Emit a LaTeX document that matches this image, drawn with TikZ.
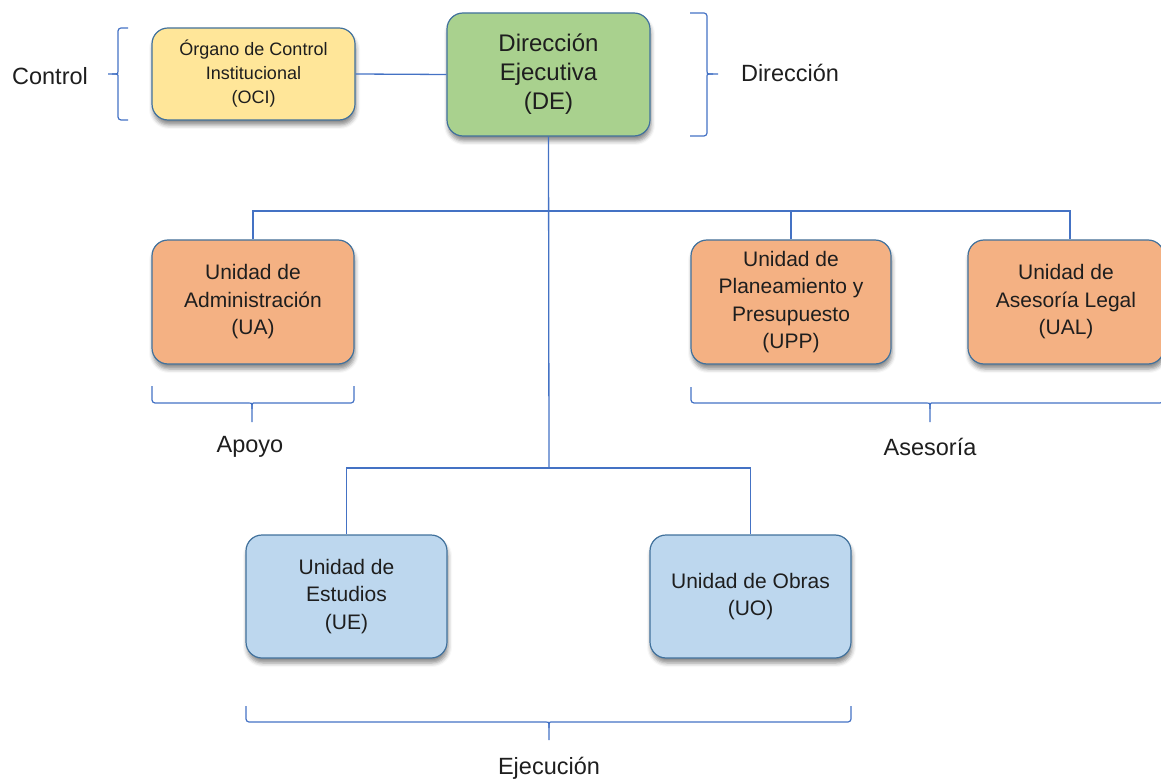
\documentclass[tikz,border=0pt]{standalone}
\usepackage{fontspec}
\setmainfont{Liberation Sans}
\usetikzlibrary{shadows.blur}
\definecolor{bordc}{HTML}{41719C}
\definecolor{linec}{HTML}{4472C4}
\definecolor{txt}{HTML}{1E1E1E}
\definecolor{fyel}{HTML}{FFE699}
\definecolor{fgrn}{HTML}{A9D18E}
\definecolor{forg}{HTML}{F4B183}
\definecolor{fblu}{HTML}{BDD7EE}
\begin{document}
\begin{tikzpicture}[x=1pt,y=-1pt,
  box/.style={draw=bordc, line width=1.2pt, rounded corners=16pt, align=center,
    inner sep=0pt, text=txt,
    blur shadow={shadow xshift=1pt, shadow yshift=-5pt, shadow blur radius=4pt, shadow opacity=45}},
  conn/.style={draw=linec, line width=1.3pt},
  brc/.style={draw=linec, line width=1.2pt, rounded corners=3pt},
  lbl/.style={text=txt, font=\fontsize{23.5}{27}\selectfont},
  fs/.style={font=\fontsize{21}{27.5}\selectfont}]
\useasboundingbox (0,0) rectangle (1161,783);
% boxes
\node[box, fill=fyel, minimum width=203pt, minimum height=92pt, font=\fontsize{18}{24}\selectfont] (oci) at (253.5,74) {Órgano de Control\\Institucional\\(OCI)};
\node[box, fill=fgrn, minimum width=203pt, minimum height=123pt, font=\fontsize{24}{29}\selectfont] (de) at (548.5,74.5) {Dirección\\Ejecutiva\\(DE)};
\node[box, fill=forg, minimum width=202pt, minimum height=124pt, fs] (ua) at (253,302) {Unidad de\\Administración\\(UA)};
\node[box, fill=forg, minimum width=200pt, minimum height=124pt, fs] (upp) at (791,302) {Unidad de\\Planeamiento y\\Presupuesto\\(UPP)};
\node[box, fill=forg, minimum width=196pt, minimum height=124pt, fs] (ual) at (1066,302) {Unidad de\\Asesoría Legal\\(UAL)};
\node[box, fill=fblu, minimum width=201pt, minimum height=123pt, fs] (ue) at (346.5,596.5) {Unidad de\\Estudios\\(UE)};
\node[box, fill=fblu, minimum width=201pt, minimum height=123pt, fs] (uo) at (750.5,596.5) {Unidad de Obras\\(UO)};
% labels
\node[lbl] (lcontrol) at (50,76) {Control};
\node[lbl] (ldir) at (790,73) {Dirección};
\node[lbl] (lapoyo) at (250,447) {Apoyo};
\node[lbl] (lases) at (930,447) {Asesoría};
\node[lbl] (lejec) at (549,768) {Ejecución};
% connectors
\coordinate (h) at (549,211);
\coordinate (j) at (549,468);
\draw[conn] (oci.east) -- (de.west);
\draw[conn] (de.south) -- (j);
\draw[conn] (ua.north) |- (h) -| ([xshift=4pt]ual.north);
\draw[conn] (upp.north) -- (upp.north |- h);
\draw[conn] (ue.north) |- (j) -| (uo.north);
% braces
\draw[brc] (128,28) -- (118,28) -- (118,68) .. controls (118,74) .. (112,74) -- (108,74);
\draw[brc] (128,120) -- (118,120) -- (118,80) .. controls (118,74) .. (112,74);
\draw[brc] (690,13) -- (707,13) -- (707,68) .. controls (707,74) .. (713,74) -- (718,74);
\draw[brc] (690,136) -- (707,136) -- (707,80) .. controls (707,74) .. (713,74);
\draw[brc] (152,386) -- (152,403) -- (246,403) .. controls (252,403) .. (252,409) -- (252,422);
\draw[brc] (354,386) -- (354,403) -- (258,403) .. controls (252,403) .. (252,409);
\draw[brc] (691,387) -- (691,403) -- (924,403) .. controls (930,403) .. (930,409) -- (930,422);
\draw[brc] (1163,387) -- (1163,403) -- (936,403) .. controls (930,403) .. (930,409);
\draw[brc] (246,706) -- (246,722) -- (543,722) .. controls (549,722) .. (549,728) -- (549,740);
\draw[brc] (851,706) -- (851,722) -- (555,722) .. controls (549,722) .. (549,728);
\end{tikzpicture}
\end{document}
